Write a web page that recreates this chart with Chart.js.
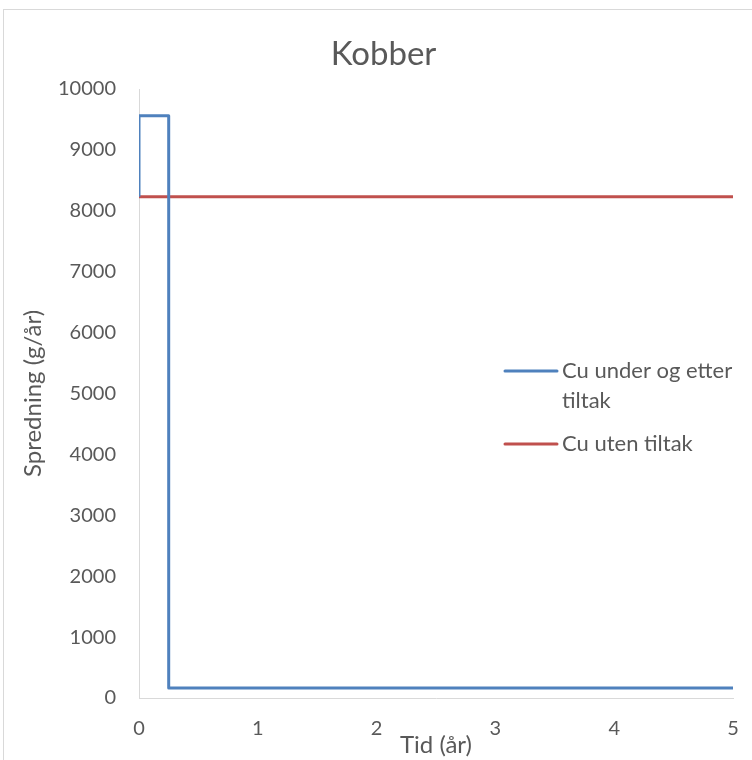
<!DOCTYPE html>
<html>
<head>
<meta charset="utf-8">
<script src="https://cdn.jsdelivr.net/npm/chart.js@4"></script>
<style>
  html, body { margin: 0; padding: 0; background: #ffffff; }
  #wrap { width: 752px; height: 760px; position: relative; }
</style>
</head>
<body>
<div id="wrap"><canvas id="c" width="752" height="760"></canvas></div>
<script>
// Copper spreading over time, with and without measures
const titleText = 'Kobber';
const xTitle = 'Tid (år)';
const yTitle = 'Spredning (g/år)';

const seriesLabels = ['Cu under og etter tiltak', 'Cu uten tiltak'];
const legendLines = [['Cu under og etter', 'tiltak'], ['Cu uten tiltak']];

// Cu under og etter tiltak (step shape)
const underX = [0, 0, 0.25, 0.25, 5];
const underY = [8230, 9560, 9560, 165, 165];

// Cu uten tiltak
const utenX = [0, 5];
const utenY = [8230, 8230];

const seriesColors = ['#4F81BD', '#C0504D'];
const textColor = '#595959';
const FONT = 'Lato, "Open Sans", sans-serif';

function toPoints(xs, ys) {
  return xs.map((x, i) => ({ x: x, y: ys[i] }));
}

// Outer frame of the chart
const framePlugin = {
  id: 'frame',
  beforeDraw(chart) {
    const ctx = chart.ctx;
    ctx.save();
    ctx.fillStyle = '#ffffff';
    ctx.fillRect(0, 0, chart.width, chart.height);
    ctx.strokeStyle = '#d9d9d9';
    ctx.lineWidth = 1;
    ctx.strokeRect(3.5, 9.5, chart.width + 10, chart.height + 10);
    ctx.restore();
  }
};

// Chart heading, centred over the frame
const headingPlugin = {
  id: 'heading',
  afterDraw(chart) {
    const ctx = chart.ctx;
    ctx.save();
    ctx.font = '33px ' + FONT;
    ctx.fillStyle = textColor;
    ctx.textAlign = 'center';
    ctx.textBaseline = 'middle';
    ctx.fillText(titleText, 383.5, 54);
    ctx.restore();
  }
};

// Legend drawn on the right side, with wrapped text
const sideLegend = {
  id: 'sideLegend',
  afterDraw(chart) {
    const ctx = chart.ctx;
    const lineX0 = 505, lineX1 = 557, textX = 562;
    const rows = [371, 444];
    ctx.save();
    ctx.font = '22px ' + FONT;
    ctx.textBaseline = 'middle';
    ctx.textAlign = 'left';
    chart.data.datasets.forEach((ds, i) => {
      const y = rows[i];
      ctx.strokeStyle = ds.borderColor;
      ctx.lineWidth = 3;
      ctx.lineCap = 'round';
      ctx.beginPath();
      ctx.moveTo(lineX0, y);
      ctx.lineTo(lineX1, y);
      ctx.stroke();
      ctx.fillStyle = textColor;
      legendLines[i].forEach((t, j) => {
        ctx.fillText(t, textX, y + j * 30);
      });
    });
    ctx.restore();
  }
};

new Chart(document.getElementById('c'), {
  type: 'scatter',
  data: {
    datasets: [
      {
        label: seriesLabels[0],
        data: toPoints(underX, underY),
        showLine: true,
        borderColor: seriesColors[0],
        backgroundColor: seriesColors[0],
        borderWidth: 3,
        pointRadius: 0,
        tension: 0,
        borderJoinStyle: 'round'
      },
      {
        label: seriesLabels[1],
        data: toPoints(utenX, utenY),
        showLine: true,
        borderColor: seriesColors[1],
        backgroundColor: seriesColors[1],
        borderWidth: 3,
        pointRadius: 0,
        tension: 0
      }
    ]
  },
  options: {
    responsive: false,
    animation: false,
    devicePixelRatio: 1,
    layout: { padding: { left: 0, right: 19, top: 89, bottom: 0 } },
    plugins: {
      legend: { display: false },
      tooltip: { enabled: false },
      title: { display: false }
    },
    scales: {
      x: {
        type: 'linear',
        min: 0,
        max: 5,
        grid: { display: false, drawTicks: false },
        border: { display: true, color: '#d9d9d9', width: 1 },
        ticks: {
          stepSize: 1,
          color: textColor,
          padding: 19,
          font: { family: FONT, size: 20 },
          callback: (v) => String(v)
        },
        title: {
          display: true,
          text: xTitle,
          color: textColor,
          font: { family: FONT, size: 24 },
          padding: { top: 0, bottom: 0 }
        },
        afterFit(scale) {
          scale.height = 62;
          scale.paddingLeft = 0;
          scale.paddingRight = 0;
        }
      },
      y: {
        min: 0,
        max: 10000,
        grid: { display: false, drawTicks: false },
        border: { display: true, color: '#d9d9d9', width: 1 },
        ticks: {
          stepSize: 1000,
          color: textColor,
          padding: 23,
          font: { family: FONT, size: 20 },
          callback: (v) => String(v)
        },
        title: {
          display: true,
          text: yTitle,
          color: textColor,
          font: { family: FONT, size: 24 },
          padding: { top: 19, bottom: 0 }
        },
        afterFit(scale) {
          scale.width = 139;
          scale.paddingTop = 0;
          scale.paddingBottom = 0;
        }
      }
    }
  },
  plugins: [framePlugin, headingPlugin, sideLegend]
});
</script>
</body>
</html>
